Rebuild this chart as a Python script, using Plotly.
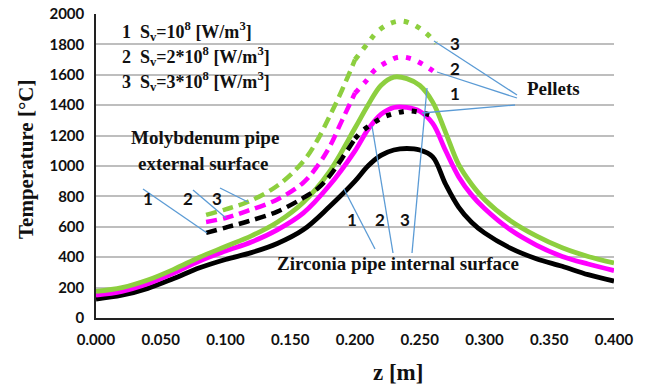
import plotly.graph_objects as go

# ---------------- data ----------------
z_solid = [0.000, 0.020, 0.040, 0.060, 0.080, 0.100, 0.120, 0.140, 0.160, 0.180,
           0.200, 0.210, 0.220, 0.230, 0.240, 0.250, 0.260, 0.270, 0.280, 0.290,
           0.300, 0.320, 0.340, 0.360, 0.380, 0.400]
zr1 = [125, 150, 195, 260, 330, 385, 430, 490, 580, 730,
       900, 1000, 1070, 1105, 1115, 1105, 1060, 880, 730, 630,
       560, 460, 390, 340, 285, 243]
zr2 = [150, 175, 225, 295, 375, 440, 500, 580, 690, 870,
       1100, 1240, 1340, 1385, 1385, 1360, 1280, 1100, 930, 810,
       720, 580, 480, 405, 355, 312]
zr3 = [175, 200, 250, 320, 400, 470, 540, 630, 760, 960,
       1250, 1400, 1530, 1585, 1575, 1530, 1420, 1220, 1010, 880,
       780, 640, 540, 462, 405, 362]

z_mo = [0.085, 0.100, 0.117, 0.140, 0.160, 0.171, 0.180, 0.190, 0.200]
mo1 = [560, 595, 635, 700, 790, 850, 930, 1050, 1180]
mo2 = [632, 658, 705, 780, 890, 1000, 1120, 1300, 1480]
mo3 = [678, 715, 763, 870, 1030, 1171, 1320, 1500, 1700]

z_pel1 = [0.200, 0.205, 0.213, 0.222, 0.232, 0.242, 0.252, 0.263]
pel1 = [1180, 1225, 1276, 1322, 1349, 1362, 1349, 1322]
z_pel2 = [0.200, 0.2085, 0.2154, 0.2247, 0.234, 0.244, 0.2533, 0.2625]
pel2 = [1480, 1559, 1632, 1684, 1717, 1704, 1664, 1612]
z_pel3 = [0.200, 0.210, 0.217, 0.226, 0.236, 0.2456, 0.2548, 0.2625]
pel3 = [1700, 1809, 1882, 1934, 1954, 1928, 1875, 1809]

x_ticks = [0.0, 0.05, 0.10, 0.15, 0.20, 0.25, 0.30, 0.35, 0.40]
x_tick_text = ["0.000", "0.050", "0.100", "0.150", "0.200", "0.250", "0.300", "0.350", "0.400"]
y_ticks = [0, 200, 400, 600, 800, 1000, 1200, 1400, 1600, 1800, 2000]

legend_lines = ["1\u00a0 S<sub>v</sub>=10<sup>8</sup> [W/m<sup>3</sup>]",
                "2\u00a0 S<sub>v</sub>=2*10<sup>8</sup> [W/m<sup>3</sup>]",
                "3\u00a0 S<sub>v</sub>=3*10<sup>8</sup> [W/m<sup>3</sup>]"]

BLACK = "#000000"
MAGENTA = "#FF00FF"
GREEN = "#8DCF3F"
BLUE = "#5B9BD5"

# page has an 8px body margin; figure sized to fit the 648x389 window
OFF = 8
W, H = 648 - OFF, 389 - OFF
L, R, T, B = 96 - OFF, 34, 14 - OFF, 71
PW, PH = W - L - R, H - T - B


def dz(px):
    # reference-window pixel x -> data z
    return (px - OFF - L) / PW * 0.4


def dT(py):
    # reference-window pixel y -> data T
    return (T + PH - (py - OFF)) / PH * 2000


fig = go.Figure()

for ys, col in [(zr1, BLACK), (zr2, MAGENTA), (zr3, GREEN)]:
    fig.add_trace(go.Scatter(x=z_solid, y=ys, mode="lines", line=dict(color=col, width=4.8, shape="spline"),
                             hoverinfo="skip"))
for ys, col in [(mo1, BLACK), (mo2, MAGENTA), (mo3, GREEN)]:
    fig.add_trace(go.Scatter(x=z_mo, y=ys, mode="lines",
                             line=dict(color=col, width=4.5, dash="11px,6px", shape="spline"), hoverinfo="skip"))
for zs, ys, col in [(z_pel1, pel1, BLACK), (z_pel2, pel2, MAGENTA), (z_pel3, pel3, GREEN)]:
    fig.add_trace(go.Scatter(x=zs, y=ys, mode="lines",
                             line=dict(color=col, width=5, dash="5px,8px", shape="spline"), hoverinfo="skip"))

# leader lines (reference pixel endpoints converted to data coords)
leaders = [
    ((143, 189), (207, 233)),
    ((193, 190), (226, 218)),
    ((220, 188), (248, 202)),
    ((517, 95), (434, 41)),
    ((517, 98), (437, 72)),
    ((515, 105), (422, 113)),
    ((375, 249), (344, 189)),
    ((393, 253), (372, 126)),
    ((412, 253), (427, 88)),
]
for (x0, y0), (x1, y1) in leaders:
    fig.add_shape(type="line", x0=dz(x0), y0=dT(y0), x1=dz(x1), y1=dT(y1),
                  line=dict(color=BLUE, width=1.3), layer="above")

serif = dict(family="Liberation Serif", size=19, color="#111111", weight="bold")
serif_leg = dict(family="Liberation Serif", size=18, color="#111111", weight="bold")
sans = dict(family="Lato", size=17, color="#111111", weight="bold")
tickf = dict(family="Lato", size=15, color="#111111", weight="bold")

annots = []
for i, txt in enumerate(legend_lines):
    annots.append(dict(x=dz(120), y=dT(31 + 25 * i), text=txt, xanchor="left", yanchor="middle",
                       font=serif_leg))
annots += [
    dict(x=dz(205), y=dT(137), text="Molybdenum pipe", font=serif),
    dict(x=dz(203), y=dT(163), text="external surface", font=serif),
    dict(x=dz(553), y=dT(88), text="Pellets", font=serif),
    dict(x=dz(398), y=dT(263), text="Zirconia pipe internal surface", font=serif),
]
for t, (px, py) in zip(["1", "2", "3"], [(148, 198), (188, 198), (217, 198)]):
    annots.append(dict(x=dz(px), y=dT(py), text=t, font=sans))
for t, (px, py) in zip(["3", "2", "1"], [(455, 43), (455, 68), (455, 93)]):
    annots.append(dict(x=dz(px), y=dT(py), text=t, font=sans))
for t, (px, py) in zip(["1", "2", "3"], [(352, 219), (380, 219), (405, 219)]):
    annots.append(dict(x=dz(px), y=dT(py), text=t, font=sans))
for a in annots:
    a.setdefault("xanchor", "center")
    a.setdefault("yanchor", "middle")
    a.update(xref="x", yref="y", showarrow=False)

annots.append(dict(xref="paper", yref="paper", x=(26 - OFF - L) / PW, y=(T + PH - (160 - OFF)) / PH,
                   text="Temperature [°C]", textangle=-90, showarrow=False,
                   font=dict(family="Liberation Serif", size=21, color="#111111", weight="bold"),
                   xanchor="center", yanchor="middle"))
annots.append(dict(xref="paper", yref="paper", x=(398 - OFF - L) / PW, y=(T + PH - (372 - OFF)) / PH,
                   text="z [m]", showarrow=False,
                   font=dict(family="Liberation Serif", size=23, color="#111111", weight="bold"),
                   xanchor="center", yanchor="middle"))

fig.update_layout(
    width=W, height=H, margin=dict(l=L, r=R, t=T, b=B, autoexpand=False),
    paper_bgcolor="white", plot_bgcolor="white", showlegend=False,
    annotations=annots,
    xaxis=dict(range=[0, 0.4], tickvals=x_ticks, ticktext=x_tick_text, showgrid=False,
               showline=True, linecolor="#222222", linewidth=1.5, ticks="", zeroline=False,
               tickfont=tickf, ticklabelstandoff=7, fixedrange=True, automargin=False,
               ticklabeloverflow="allow"),
    yaxis=dict(range=[0, 2000], tickvals=y_ticks, showgrid=True, gridcolor="#BEBEBE", gridwidth=1.5,
               showline=True, linecolor="#222222", linewidth=1.5, ticks="", zeroline=False,
               tickfont=tickf, ticklabelstandoff=7, fixedrange=True, automargin=False,
               ticklabeloverflow="allow"),
)

fig.write_html("out.html")
